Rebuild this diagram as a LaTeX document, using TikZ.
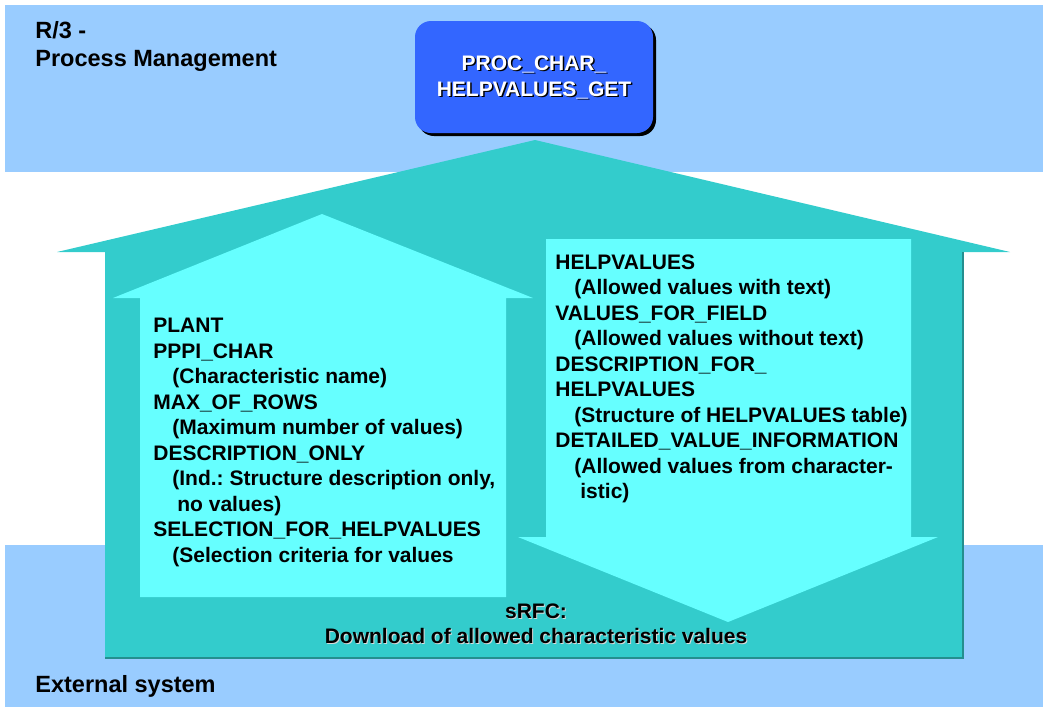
\documentclass[tikz,border=0pt]{standalone}
\usepackage{fontspec}
\setmainfont{Liberation Sans}
\usetikzlibrary{shadows}
\frenchspacing

\definecolor{bandblue}{HTML}{99CCFF}
\definecolor{outerteal}{HTML}{33CCCC}
\definecolor{innercyan}{HTML}{66FFFF}
\definecolor{boxblue}{HTML}{3366FF}

\tikzset{
  band/.style={fill=bandblue},
  title/.style={font=\fontsize{11.75}{14}\selectfont\bfseries, align=left, inner sep=0},
  list/.style={font=\fontsize{10.5}{12.75}\selectfont\bfseries, align=left, inner sep=0},
  boxtext/.style={font=\fontsize{10.5}{13}\selectfont\bfseries, align=center, inner sep=0},
  procbox/.style={fill=boxblue, rounded corners=8pt, minimum width=119pt, minimum height=56pt, inner sep=0}
}
\newcommand{\ind}{\hspace*{9.5pt}}

\begin{document}
\begin{tikzpicture}[x=0.5pt,y=-0.5pt]
      \useasboundingbox (0,0) rectangle (1043,708);

      % Systems
      \fill [band] (5,5) rectangle (1043,172);
      \fill [band] (5,545) rectangle (1043,707);
      \node [title,anchor=north west] (rthree) at (35,21) {R/3 -\\Process Management};
      \node [title,anchor=base west] (ext) at (35,692) {External system};

      % Function module
      \fill [black,rounded corners=8pt] (418,24) rectangle (656,136);
      \node [procbox] (proc) at (534,77) {};
      \node [boxtext,black] (procshadow) at ([shift={(1.5,1.5)}]proc.center) {PROC\_CHAR\_\\HELPVALUES\_GET};
      \node [boxtext,white] (proctext) at (proc.center) {PROC\_CHAR\_\\HELPVALUES\_GET};

      % sRFC
      \fill [outerteal] (105,658) -- (105,252) -- (57,252) -- (535,140)
      -- (1010,252) -- (963,252) -- (963,658) -- cycle;
      \draw [outerteal!70!black,line width=1] (963,252) -- (963,658) -- (105,658);

      % Import parameters
      \fill [innercyan] (140,597) -- (140,298) -- (113,298) -- (322,214)
      -- (533,298) -- (506,298) -- (506,597) -- cycle;
      \node [list,anchor=north west] (import) at (153,318) {PLANT\\PPPI\_CHAR\\
      \ind(Characteristic name)\\MAX\_OF\_ROWS\\\ind(Maximum number of values)\\
      DESCRIPTION\_ONLY\\\ind(Ind.: Structure description only,\\\ind\hspace*{2.5pt}no values)\\
      SELECTION\_FOR\_HELPVALUES\\\ind(Selection criteria for values};

      % Export tables
      \fill [innercyan] (546,239) -- (911,239) -- (911,537) -- (938,537)
      -- (728,622) -- (518,537) -- (546,537) -- cycle;
      \node [list,anchor=north west] (export) at (555,254) {HELPVALUES\\
      \ind(Allowed values with text)\\VALUES\_FOR\_FIELD\\\ind(Allowed values without text)\\
      DESCRIPTION\_FOR\_\\HELPVALUES\\\ind(Structure of HELPVALUES table)\\
      DETAILED\_VALUE\_INFORMATION\\\ind(Allowed values from character-\\\ind\hspace*{3pt}istic)};

      \node [list,align=center,anchor=north,white!85!black] (srfcshadow) at (537,604) {sRFC:\\Download of allowed characteristic values};
      \node [list,align=center,anchor=north] (srfc) at (536,603) {sRFC:\\Download of allowed characteristic values};
\end{tikzpicture}
\end{document}
